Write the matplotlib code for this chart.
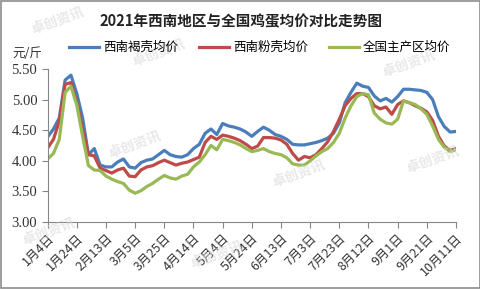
import matplotlib.pyplot as plt
import numpy as np

plt.rcParams['font.family'] = ['Liberation Serif', 'Noto Sans CJK SC', 'DejaVu Sans']
plt.rcParams['axes.unicode_minus'] = False

# 数据: 2021-01-04 起每4天一个点
start = np.datetime64('2021-01-04')
dates = start + np.arange(0, 281, 4).astype('timedelta64[D]')

brown_sw = [4.39, 4.52, 4.70, 5.32, 5.40, 5.10, 4.70, 4.10, 4.20, 3.93,
            3.90, 3.90, 3.98, 4.03, 3.90, 3.88, 3.97, 4.01, 4.03, 4.10,
            4.17, 4.10, 4.07, 4.06, 4.10, 4.20, 4.27, 4.45, 4.52, 4.43,
            4.61, 4.57, 4.55, 4.52, 4.47, 4.40, 4.48, 4.55, 4.50, 4.43,
            4.40, 4.35, 4.27, 4.26, 4.26, 4.28, 4.30, 4.33, 4.37, 4.45,
            4.62, 4.95, 5.12, 5.27, 5.22, 5.20, 5.06, 4.98, 5.02, 4.96,
            5.05, 5.17, 5.17, 5.16, 5.15, 5.12, 5.00, 4.72, 4.56, 4.47,
            4.48]
pink_sw = [4.21, 4.35, 4.65, 5.25, 5.28, 4.95, 4.52, 4.10, 4.08, 3.88,
           3.84, 3.80, 3.85, 3.88, 3.75, 3.74, 3.85, 3.90, 3.92, 3.97,
           4.01, 3.97, 3.93, 3.96, 3.98, 4.02, 4.06, 4.30, 4.40, 4.35,
           4.42, 4.40, 4.37, 4.33, 4.27, 4.20, 4.24, 4.38, 4.38, 4.37,
           4.34, 4.27, 4.12, 4.01, 4.07, 4.05, 4.10, 4.20, 4.31, 4.48,
           4.68, 4.90, 5.02, 5.10, 5.10, 5.05, 4.90, 4.85, 4.88, 4.76,
           4.92, 4.98, 4.95, 4.90, 4.86, 4.80, 4.66, 4.40, 4.24, 4.17,
           4.20]
national = [4.03, 4.12, 4.35, 5.12, 5.22, 4.91, 4.40, 3.92, 3.85, 3.84,
            3.75, 3.70, 3.66, 3.63, 3.52, 3.47, 3.51, 3.58, 3.63, 3.70,
            3.76, 3.72, 3.70, 3.75, 3.78, 3.90, 3.98, 4.10, 4.25, 4.18,
            4.35, 4.33, 4.30, 4.26, 4.20, 4.15, 4.17, 4.20, 4.15, 4.12,
            4.10, 4.05, 3.95, 3.93, 3.93, 4.00, 4.08, 4.15, 4.20, 4.30,
            4.45, 4.70, 4.90, 5.05, 5.10, 5.08, 4.78, 4.68, 4.62, 4.60,
            4.68, 4.98, 4.95, 4.92, 4.85, 4.76, 4.57, 4.35, 4.22, 4.15,
            4.18]

series_names = ['西南褐壳均价', '西南粉壳均价', '全国主产区均价']
series_colors = ['#4A7EBB', '#BE4B48', '#98B954']

tick_labels = ['1月4日', '1月24日', '2月13日', '3月5日', '3月25日', '4月14日',
               '5月4日', '5月24日', '6月13日', '7月3日', '7月23日', '8月12日',
               '9月1日', '9月21日', '10月11日']
tick_dates = start + (np.arange(len(tick_labels)) * 20).astype('timedelta64[D]')

cjk = ['Noto Sans CJK SC', 'DejaVu Sans']

fig = plt.figure(figsize=(4.81, 2.89), dpi=100)
ax = fig.add_axes([0.099, 0.232, 0.849, 0.529])

for vals, name, c in zip([brown_sw, pink_sw, national], series_names, series_colors):
    ax.plot(dates, vals, color=c, lw=2.3, label=name, solid_joinstyle='round')

ax.set_ylim(3.0, 5.5)
ax.set_yticks(np.arange(3.0, 5.51, 0.5))
ax.set_yticklabels([f'{v:.2f}' for v in np.arange(3.0, 5.51, 0.5)], fontsize=10.5)
ax.set_xlim(tick_dates[0], tick_dates[-1])
ax.set_xticks(tick_dates)
ax.set_xticklabels(tick_labels, rotation=45, ha='right', va='top',
                   rotation_mode='anchor', fontsize=9, family=cjk)

for s in ['top', 'right']:
    ax.spines[s].set_visible(False)
for s in ['left', 'bottom']:
    ax.spines[s].set_color('#868686')
ax.tick_params(axis='both', direction='out', length=4, color='#868686', colors='#333333')
ax.tick_params(axis='x', pad=3)

# 标题与图例
fig.text(0.5, 0.925, '2021年西南地区与全国鸡蛋均价对比走势图', ha='center', va='center',
         fontsize=10.5, fontweight='bold', color='#222222', family=cjk)
fig.text(0.025, 0.815, '元/斤', ha='left', va='center', fontsize=9, color='#333333',
         family=cjk)
fig.legend(loc='center', bbox_to_anchor=(0.54, 0.835), ncol=3, frameon=False,
           prop={'family': cjk, 'size': 9},
           handlelength=2.4, columnspacing=1.7, handletextpad=0.3)

# 水印
for (wx, wy) in [(0.12, 0.93), (0.33, 0.82), (0.85, 0.78),
                 (0.28, 0.5), (0.62, 0.4), (0.9, 0.45), (0.45, 0.12), (0.1, 0.2)]:
    fig.text(wx, wy, '卓创资讯', ha='center', va='center', fontsize=10, rotation=20,
             color='#d9d9d9', alpha=0.6, fontweight='bold', family=cjk, zorder=0)

# 外框
fig.patches.append(plt.Rectangle((0.002, 0.003), 0.995, 0.994, transform=fig.transFigure,
                                 fill=False, edgecolor='#8c8c8c', lw=1.2))

fig.savefig('out.png', dpi=100)
plt.close()
